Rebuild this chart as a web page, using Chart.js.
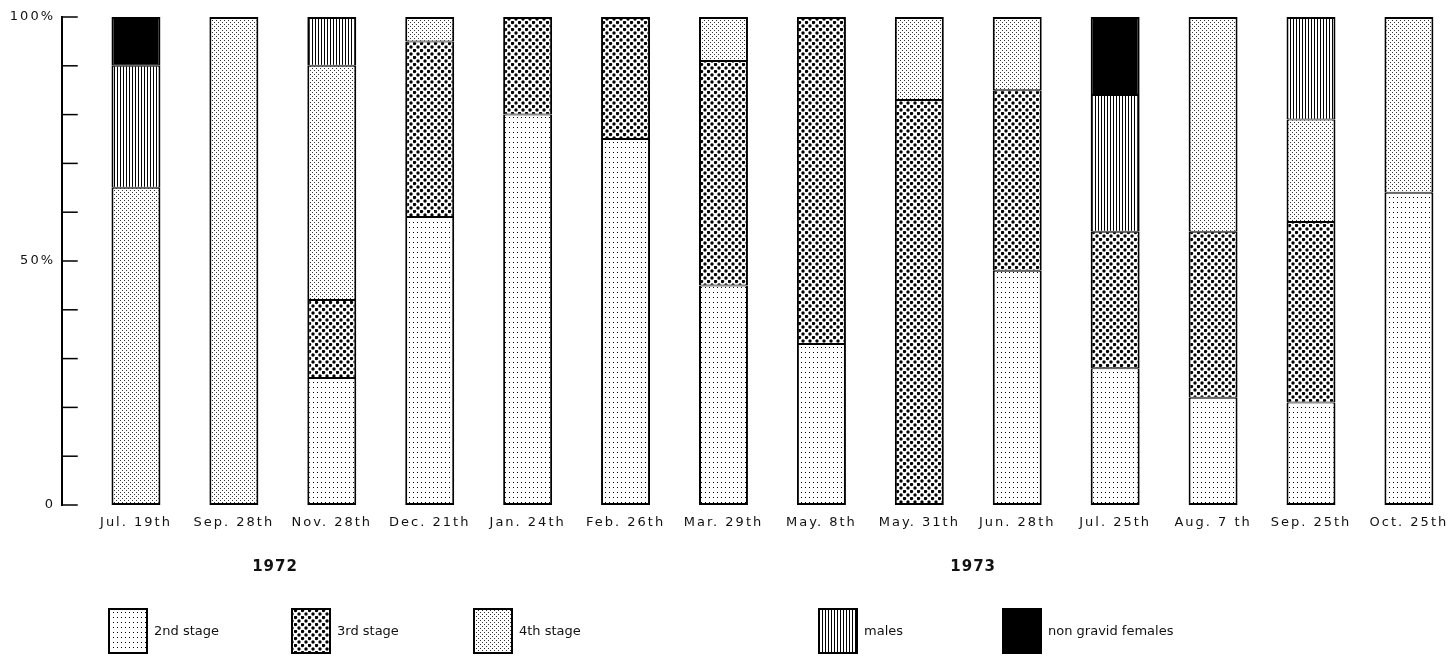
<!DOCTYPE html>
<html>
<head>
<meta charset="utf-8">
<script src="https://cdn.jsdelivr.net/npm/chart.js@4.4.1/dist/chart.umd.min.js"></script>
<style>
  html, body { margin: 0; padding: 0; background: #fff; }
</style>
</head>
<body>
<canvas id="chart" width="1452" height="657"></canvas>
<script>
// --- Datos: % de cada estado en cada fecha de muestreo ---
const dates = ['Jul. 19th', 'Sep. 28th', 'Nov. 28th', 'Dec. 21th', 'Jan. 24th', 'Feb. 26th', 'Mar. 29th',
               'May. 8th', 'May. 31th', 'Jun. 28th', 'Jul. 25th', 'Aug. 7 th', 'Sep. 25th', 'Oct. 25th'];
const stage2    = [ 0,   0, 26, 59, 80, 75, 45, 33,  0, 48, 28, 22, 21, 64];
const stage3    = [ 0,   0, 16, 36, 20, 25, 46, 67, 83, 37, 28, 34, 37,  0];
const stage4    = [65, 100, 48,  5,  0,  0,  9,  0, 17, 15,  0, 44, 21, 36];
const males     = [25,   0, 10,  0,  0,  0,  0,  0,  0,  0, 28,  0, 21,  0];
const nonGravid = [10,   0,  0,  0,  0,  0,  0,  0,  0,  0, 16,  0,  0,  0];
const seriesNames = ['2nd stage', '3rd stage', '4th stage', 'males', 'non gravid females'];
const yTickLabels = { 0: '0', 50: '50%', 100: '100%' };
const years = ['1972', '1973'];

const FONT = '"DejaVu Sans", sans-serif';
const INK = '#111';

// --- Tramas (imitan las tramas impresas del original) ---
function makePattern(w, h, draw) {
    const c = document.createElement('canvas');
    c.width = w;
    c.height = h;
    const g = c.getContext('2d');
    g.fillStyle = '#fff';
    g.fillRect(0, 0, w, h);
    g.fillStyle = '#000';
    draw(g);
    return g.createPattern(c, 'repeat');
}

const patterns = [
    // 2nd stage: rejilla cuadrada de puntos finos
    makePattern(4, 5, g => { g.fillRect(1, 2, 1, 1); }),
    // 3rd stage: puntos gruesos al tresbolillo
    makePattern(7, 7, g => {
        [[1.5, 1.5], [5, 5]].forEach(([cx, cy]) => {
            g.beginPath();
            g.arc(cx, cy, 1.7, 0, Math.PI * 2);
            g.fill();
        });
    }),
    // 4th stage: puntos finos al tresbolillo
    makePattern(4, 4, g => {
        g.fillStyle = '#333';
        g.fillRect(0, 0, 1, 1);
        g.fillRect(2, 2, 1, 1);
    }),
    // males: rayado vertical
    makePattern(3, 1, g => { g.fillRect(0, 0, 1, 1); }),
    // non gravid females: negro
    '#000'
];

const seriesValues = [stage2, stage3, stage4, males, nonGravid];

// Borde exterior grueso, separaciones internas finas
function segmentBorder(ctx) {
    if (ctx.type !== 'data') return 2;
    const i = ctx.dataIndex;
    const k = ctx.datasetIndex;
    const below = seriesValues.slice(0, k).some(s => s[i] > 0);
    const above = seriesValues.slice(k + 1).some(s => s[i] > 0);
    return { left: 2, right: 2, top: above ? 1 : 2, bottom: below ? 1 : 2 };
}

const datasets = seriesValues.map((vals, k) => ({
    label: seriesNames[k],
    data: vals.map((v, i) => ({ x: i, y: v > 0 ? v : null })),
    backgroundColor: patterns[k],
    borderColor: '#000',
    borderWidth: segmentBorder,
    borderSkipped: false,
    categoryPercentage: 0.5,
    barPercentage: 1
}));

// --- Eje Y dibujado a mano (marcas hacia dentro), años y leyenda ---
const decorPlugin = {
    id: 'decor',
    beforeDraw(chart) {
        // etiquetas del original con letras espaciadas
        chart.ctx.letterSpacing = '2px';
    },
    afterDraw(chart) {
        const { ctx } = chart;
        const x = chart.scales.x;
        const y = chart.scales.y;
        ctx.letterSpacing = '0px';
        ctx.save();
        ctx.strokeStyle = '#000';
        ctx.lineCap = 'square';

        // línea del eje
        const axisX = 62;
        ctx.lineWidth = 2;
        ctx.beginPath();
        ctx.moveTo(axisX, y.getPixelForValue(0));
        ctx.lineTo(axisX, y.getPixelForValue(100));
        ctx.stroke();

        // marcas cada 10 %
        ctx.lineWidth = 1.5;
        y.ticks.forEach(t => {
            const py = y.getPixelForValue(t.value);
            ctx.beginPath();
            ctx.moveTo(axisX, py);
            ctx.lineTo(axisX + 15, py);
            ctx.stroke();
        });

        // años bajo las fechas
        ctx.fillStyle = INK;
        ctx.font = 'bold 15px ' + FONT;
        ctx.textAlign = 'center';
        ctx.textBaseline = 'middle';
        ctx.letterSpacing = '1px';
        ctx.fillText(years[0], x.getPixelForValue(1.42), 567);
        ctx.fillText(years[1], x.getPixelForValue(8.55), 567);

        // leyenda
        const legendX = [109, 292, 474, 819, 1003];
        ctx.font = '13px ' + FONT;
        ctx.textAlign = 'left';
        ctx.letterSpacing = '0px';
        ctx.lineWidth = 2;
        seriesNames.forEach((name, k) => {
            const lx = legendX[k];
            ctx.fillStyle = patterns[k];
            ctx.fillRect(lx, 609, 38, 44);
            ctx.strokeRect(lx, 609, 38, 44);
            ctx.fillStyle = INK;
            ctx.fillText(name, lx + 45, 632);
        });
        ctx.restore();
    }
};

new Chart(document.getElementById('chart'), {
    type: 'bar',
    data: { datasets: datasets },
    plugins: [decorPlugin],
    options: {
        responsive: false,
        animation: false,
        devicePixelRatio: 1,
        layout: { padding: { top: 17, right: 0, left: 0, bottom: 0 } },
        plugins: {
            legend: { display: false },
            tooltip: { enabled: false }
        },
        scales: {
            x: {
                type: 'linear',
                stacked: true,
                min: -0.5,
                max: 13.44,
                offset: false,
                grid: { display: false, drawTicks: false },
                border: { display: false },
                afterBuildTicks: s => { s.ticks = dates.map((d, i) => ({ value: i })); },
                afterFit: s => { s.height = 152; },
                ticks: {
                    autoSkip: false,
                    maxRotation: 0,
                    padding: 10,
                    color: INK,
                    font: { family: FONT, size: 13 },
                    callback: v => dates[v] ?? ''
                }
            },
            y: {
                stacked: true,
                min: 0,
                max: 100,
                grid: { display: false, drawTicks: false },
                border: { display: false },
                afterFit: s => {
                    s.width = 87;
                    // el padding de las etiquetas no debe empujar el área del gráfico
                    s.paddingTop = 0;
                    s.paddingBottom = 0;
                },
                ticks: {
                    stepSize: 10,
                    padding: 32,
                    color: INK,
                    font: { family: FONT, size: 13 },
                    callback: v => yTickLabels[v] ?? ''
                }
            }
        }
    }
});
</script>
</body>
</html>
